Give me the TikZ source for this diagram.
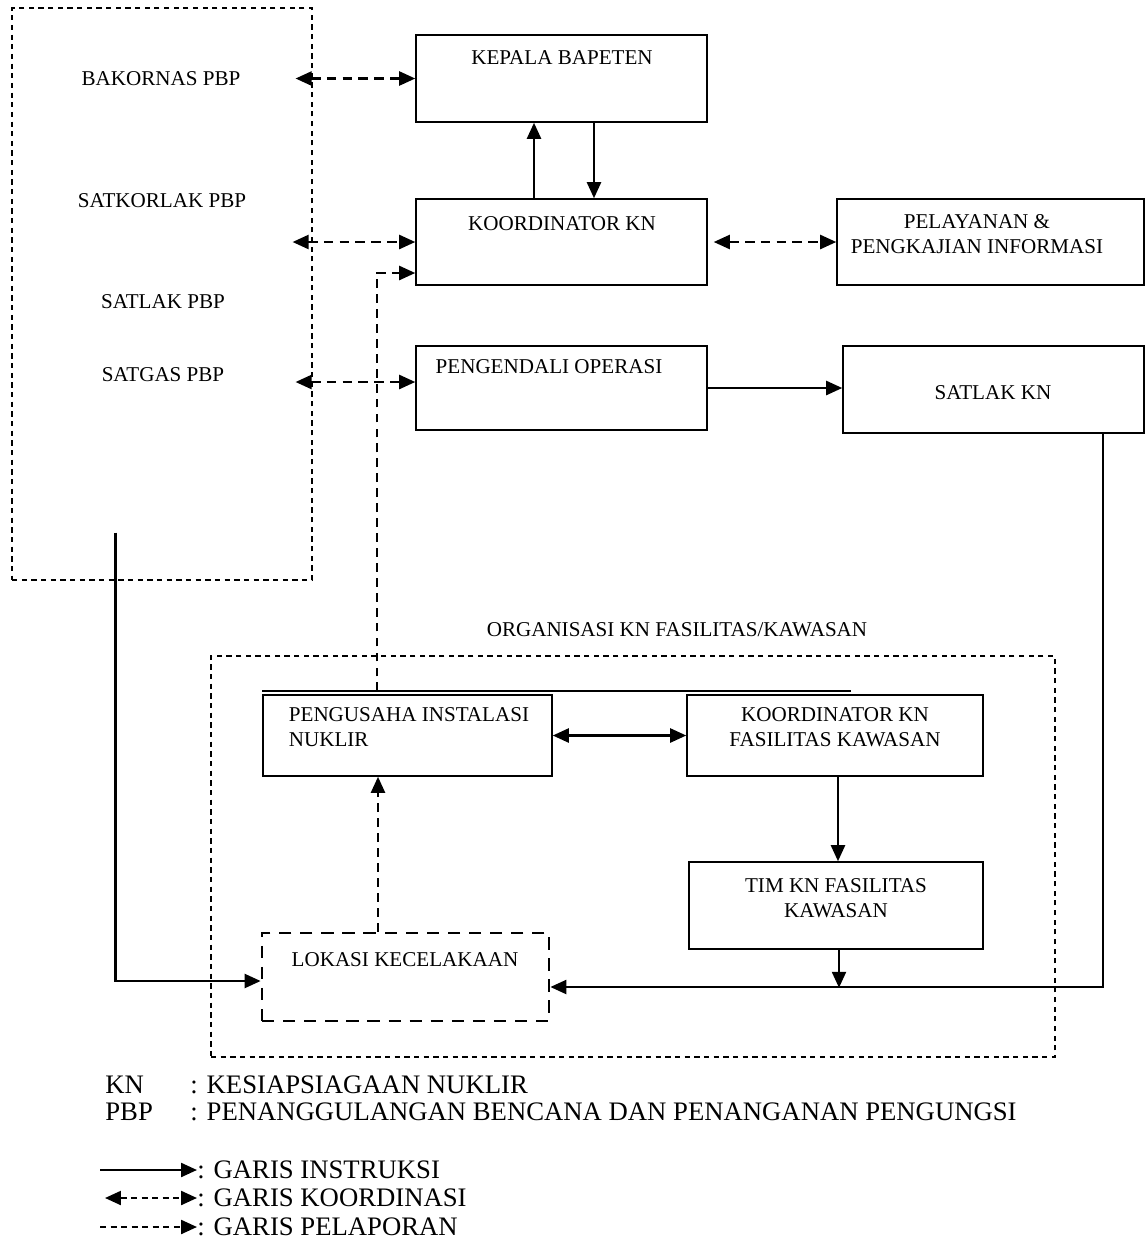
\documentclass[tikz,border=0pt]{standalone}
\usepackage{fontspec}
\setmainfont{Liberation Serif}
\usetikzlibrary{arrows.meta}
\usetikzlibrary{calc}
\usetikzlibrary{positioning}

\begin{document}
\begin{tikzpicture}[x=0.02cm, y=-0.02cm,
    box/.style={draw, line width=0.9pt, inner sep=0pt},
    area/.style={draw, line width=0.7pt, dash pattern=on 3pt off 2.5pt, inner sep=0pt},
    txt/.style={font=\fontsize{12}{14.5}\selectfont, inner sep=0pt, align=center},
    leg/.style={font=\fontsize{15.2}{17}\selectfont, inner sep=0pt, anchor=west},
    tip/.tip={Triangle[length=0.32cm, width=0.28cm]},
    instr/.style={line width=1.3pt, -tip},
    dbl/.style={line width=1.3pt, tip-tip},
    koordin/.style={line width=1.3pt, dash pattern=on 5.5pt off 3.5pt, tip-tip},
    lapor/.style={line width=1.3pt, dash pattern=on 5pt off 3.5pt, -tip}]
\useasboundingbox (0,0) rectangle (1145,1252);

% left block
\node[area, minimum width=6cm, minimum height=11.44cm] (pbp) at (162,294) {};
\node[txt] (bakornas) at (161,79) {BAKORNAS PBP};
\node[txt] (satkorlak) at (162,201) {SATKORLAK PBP};
\node[txt] (satlakpbp) at (163,302) {SATLAK PBP};
\node[txt] (satgas) at (163,375) {SATGAS PBP};

% upper boxes
\node[box, minimum width=5.82cm, minimum height=1.74cm] (kepala) at (561.5,78.5) {};
\node[txt] (kepalaT) at (562,58) {KEPALA BAPETEN};
\node[box, minimum width=5.82cm, minimum height=1.72cm] (koord) at (561.5,242) {};
\node[txt] (koordT) at (562,224) {KOORDINATOR KN};
\node[box, minimum width=6.14cm, minimum height=1.72cm] (pelayanan) at (990.5,242) {};
\node[txt] (pelayananT) at (977,234) {PELAYANAN \&\\PENGKAJIAN INFORMASI};
\node[box, minimum width=5.82cm, minimum height=1.68cm] (pengendali) at (561.5,388) {};
\node[txt] (pengendaliT) at (549,367) {PENGENDALI OPERASI};
\node[box, minimum width=6.02cm, minimum height=1.74cm] (satlak) at (993.5,389.5) {};
\node[txt] (satlakT) at (993,393) {SATLAK KN};

% organisasi
\node[txt] (orgT) at (677,630) {ORGANISASI KN FASILITAS/KAWASAN};
\node[area, minimum width=16.88cm, minimum height=8.02cm] (org) at (633,856.5) {};
\node[box, minimum width=5.78cm, minimum height=1.62cm] (pengusaha) at (407.5,735.5) {};
\node[txt, align=left] (pengusahaT) at (409,727) {PENGUSAHA INSTALASI\\NUKLIR};
\node[box, minimum width=5.92cm, minimum height=1.62cm] (koorfas) at (835,735.5) {};
\node[txt] (koorfasT) at (835,727) {KOORDINATOR KN\\FASILITAS KAWASAN};
\node[box, minimum width=5.88cm, minimum height=1.74cm] (tim) at (836,905.5) {};
\node[txt] (timT) at (836,898) {TIM KN FASILITAS\\KAWASAN};
\node[box, line width=1.6pt, dash pattern=on 7pt off 5pt, minimum width=5.74cm, minimum height=1.76cm] (lokasi) at (405.5,977) {};
\node[txt] (lokasiT) at (405,960) {LOKASI KECELAKAAN};

% connectors
\draw[koordin] ($(pbp.east |- kepala.west)+(-17,0)$) -- (kepala.west);
\draw[koordin] ($(pbp.east |- koord.west)+(-20,0)$) -- (koord.west);
\draw[koordin] ($(pbp.east |- pengendali.west)+(-17,-6)$) -- ($(pengendali.west)+(0,-6)$);
\draw[koordin] ($(koord.east)+(6,0)$) -- (pelayanan.west);
\draw[instr] ($(koord.north)+(-27.5,0)$) -- ($(kepala.south)+(-27.5,0)$);
\draw[instr] ($(kepala.south)+(32.5,0)$) -- ($(koord.north)+(32.5,0)$);
\draw[instr] (pengendali.east) -- (satlak.west |- pengendali.east);
\draw[line width=0.9pt] ($(pengusaha.north west)+(0,-3)$) -- ($(koorfas.north west)+(165,-3)$);
\draw[lapor] ($(pengusaha.north)+(-30.5,-3)$) |- ($(koord.west)+(0,31)$);
\draw[dbl] (pengusaha.east) -- (koorfas.west);
\draw[instr] ($(koorfas.south)+(3,0)$) -- ($(tim.north)+(2,0)$);
\draw[instr] ($(tim.south)+(3,0)$) -- ++(0,38);
\draw[instr] ($(satlak.south)+(109.5,0)$) |- ($(lokasi.east)+(0,10)$);
\draw[instr] ($(pbp.south west)+(104,-48)$) |- ($(lokasi.west)+(0,4)$);
\draw[lapor] ($(lokasi.north)+(-27.5,0)$) -- ($(pengusaha.south)+(-29.5,0)$);

% legend
\node[leg] (kn) at (105,1085) {KN};
\node[leg] (knT) at (190,1085) {: KESIAPSIAGAAN NUKLIR};
\node[leg] (pbpL) at (105,1112) {PBP};
\node[leg] (pbpT) at (190,1112) {: PENANGGULANGAN BENCANA DAN PENANGANAN PENGUNGSI};
\coordinate (l1) at (100,1170);
\coordinate (l2) at (105,1198);
\coordinate (l3) at (100,1227);
\node[leg] (ins) at (197,1170) {: GARIS INSTRUKSI};
\node[leg] (kor) at (197,1198) {: GARIS KOORDINASI};
\node[leg] (lap) at (197,1227) {: GARIS PELAPORAN};
\draw[instr] (l1) -- (ins.west);
\draw[koordin, dash pattern=on 3.5pt off 2.5pt] (l2) -- (kor.west);
\draw[lapor, dash pattern=on 3.5pt off 2.5pt] (l3) -- (lap.west);
\end{tikzpicture}
\end{document}
